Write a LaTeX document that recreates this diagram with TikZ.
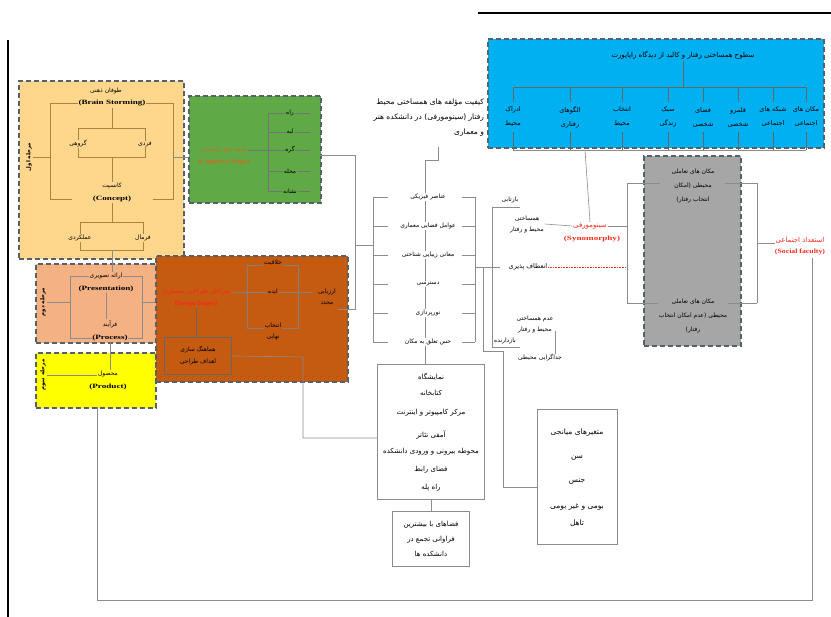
\documentclass[tikz,border=0pt]{standalone}
\usepackage{graphicx}
\usepackage{fontspec}
\setmainfont{Liberation Serif}
\newfontfamily\farsi[Script=Arabic]{DejaVu Sans}
\TeXXeTstate=1
\newcommand\fa[1]{{\farsi\beginR #1\endR}}
\newcommand\wide[1]{\scalebox{1.4}[1]{#1}}
\usetikzlibrary{positioning}
\definecolor{ideafill}{HTML}{FFD78C}
\definecolor{mapfill}{HTML}{5FAA46}
\definecolor{levelfill}{HTML}{00B0F0}
\definecolor{designfill}{HTML}{C55A11}
\definecolor{presfill}{HTML}{F4B183}
\definecolor{prodfill}{HTML}{FFFF00}
\definecolor{placefill}{HTML}{A6A6A6}
\definecolor{dashgray}{HTML}{56606B}
\definecolor{linegray}{HTML}{8C8C8C}
\definecolor{keyred}{HTML}{F52A1A}
\definecolor{mapred}{HTML}{D9661F}
\definecolor{idealine}{HTML}{A88440}
\tikzset{stagebox/.style={draw=dashgray,line width=1.6pt,dash pattern=on 5pt off 3pt,
  anchor=north west,inner sep=0pt}}
\tikzset{plainbox/.style={draw=linegray,line width=0.8pt,inner sep=0pt,align=center,
  font=\fontsize{7}{15}\selectfont}}
\tikzset{lbl/.style={font=\fontsize{6}{11}\selectfont,inner sep=0.8pt,align=center}}
\tikzset{big/.style={font=\fontsize{7}{15}\selectfont}}
\tikzset{tall/.style={font=\fontsize{6}{14}\selectfont}}
\tikzset{en/.style={font=\fontsize{6.5}{8}\selectfont\bfseries,inner sep=0.8pt}}
\tikzset{sidelbl/.style={font=\fontsize{5.5}{7}\selectfont\bfseries,inner sep=0.8pt,rotate=90}}
\tikzset{link/.style={draw=linegray,line width=0.6pt}}

\begin{document}
\begin{tikzpicture}[x=1pt,y=-1pt]
\useasboundingbox (0,0) rectangle (831,617);

% frame
\draw[line width=1.2pt] (478,13) -- (831,13);
\draw[line width=1.2pt] (8,40) -- (8,617);

% stage boxes
\node[stagebox,fill=ideafill,minimum width=165pt,minimum height=178pt] (ideabox) at (18,80) {};
\node[stagebox,fill=mapfill,minimum width=132pt,minimum height=107pt] (mapbox) at (188,95) {};
\node[stagebox,fill=presfill,minimum width=120pt,minimum height=79pt] (presbox) at (35,263) {};
\node[stagebox,fill=prodfill,minimum width=120pt,minimum height=55pt] (prodbox) at (35,352) {};
\node[stagebox,fill=designfill,minimum width=192pt,minimum height=126pt] (designbox) at (155,255) {};
\node[stagebox,fill=levelfill,minimum width=336pt,minimum height=109pt] (levelbox) at (487,38) {};
\node[stagebox,fill=placefill,minimum width=97pt,minimum height=190pt] (placebox) at (643,155) {};

% brain storming
\node[lbl] (bsfa) at (106,91) {\fa{طوفان ذهنی}};
\node[en] (bs) at (112,103) {\wide{(Brain Storming)}};
\node[lbl] (cnfa) at (112,186) {\fa{کانسپت}};
\node[en] (cn) at (112,199) {\wide{(Concept)}};
\draw[link,idealine] (bs.west) -- (50,103) -- (50,199) -- (72,199);
\draw[link,idealine] (bs.east) -- (173,103) -- (173,199) -- (153,199);
\draw[link,idealine] (112,108) -- (112,128);
\draw[link,idealine] (78,128) rectangle (145,157);
\draw[link,idealine] (112,157) -- (cnfa.north);
\draw[link,idealine] (cn.south) -- (112,222);
\draw[link,idealine] (80,222) rectangle (143,250);
\node[lbl,fill=ideafill] (group) at (78,144) {\fa{گروهی}};
\node[lbl,fill=ideafill] (indiv) at (145,144) {\fa{فردی}};
\node[lbl,fill=ideafill] (func) at (80,238) {\fa{عملکردی}};
\node[lbl,fill=ideafill] (form) at (143,238) {\fa{فرمال}};
\node[sidelbl] (stage1) at (29,157) {\fa{مرحله اول}};
\draw[link,idealine] (stage1.south) -- (50,157);
\draw[link] (173,157) -- (188,157);
\draw[link] (112,250) -- (112,272);

% cognitive maps
\draw[link,black!55] (268,113) -- (268,191);
\foreach \y/\w [count=\i] in {113/راه,132/لبه,150/گره,171/محله,191/نشانه}{
  \draw[link,black!55] (268,\y) -- (310,\y);
  \node[lbl,fill=mapfill] (lynch\i) at (290,\y) {\fa{\w}};
}
\node[lbl,text=mapred] (mapfa) at (224,150) {\fa{نقشه های شناختی}};
\node[en,text=mapred,font=\fontsize{6}{7}\selectfont\bfseries] (map) at (224,162) {\scalebox{1.15}[1]{(Cognitive Maps)}};
\draw[link,black!55] (mapfa.east) -- (268,150);

% presentation / process / product
\draw[link] (70,276) rectangle (142,338);
\node[lbl,fill=presfill] (presfa) at (106,276) {\fa{ارائه تصویری}};
\node[en] (pres) at (106,289) {\wide{(Presentation)}};
\node[lbl] (procfa) at (110,324) {\fa{فرآیند}};
\node[en,fill=presfill] (proc) at (110,338) {\wide{(Process)}};
\draw[link] (pres.south) -- (pres.south |- procfa.north);
\node[sidelbl] (stage2) at (43,302) {\fa{مرحله دوم}};
\draw[link] (stage2.south) -- (70,302);
\draw[link] (142,302) -- (155,302);
\node[lbl] (prodfa) at (108,374) {\fa{محصول}};
\node[en] (prod) at (108,387) {\wide{(Product)}};
\node[sidelbl] (stage3) at (43,375) {\fa{مرحله سوم}};
\draw[link] (stage3.south) -- (stage3.south -| prodfa.west);
\draw[link] (proc.south) -- (proc.south |- prodfa.north);

% design stages
\draw[link,black!50] (247,265) rectangle (298,328);
\draw[link,black!50] (233,292) -- (313,292);
\node[lbl,big,text=keyred] (designfa) at (196,292) {\fa{مراحل طراحی معماری}};
\node[en,text=keyred] (design) at (196,304) {(Design Stages)};
\node[lbl,fill=designfill] (creat) at (273,263) {\fa{خلاقیت}};
\node[lbl,fill=designfill] (idea) at (273,292) {\fa{ایده}};
\node[lbl,fill=designfill] (final) at (273,331) {\fa{انتخاب}\\\fa{نهایی}};
\node[lbl] (review) at (327,297) {\fa{ارزیابی}\\\fa{مجدد}};
\node[plainbox,draw=black!60,minimum width=67pt,minimum height=37pt,
  font=\fontsize{6}{12}\selectfont] (harm) at (198,356) {\fa{هماهنگ سازی}\\\fa{اهداف طراحی}};
\draw[link,black!60] (design.south) -- (design.south |- harm.north);

% core list
\node[lbl,font=\fontsize{7.5}{15}\selectfont,align=right,anchor=north east] (title) at (485,98)
  {\fa{کیفیت مؤلفه های همساختی محیط}\\\fa{رفتار (سینومورفی) در دانشکده هنر}\\\fa{و معماری}};
\draw[link] (438,147) -- (438,160) -- (425,160) -- (425,365);
\draw[link] (373,197) -- (373,342) (475,197) -- (475,342);
\foreach \y/\w [count=\i] in {197/عناصر فیزیکی,226/عوامل فضایی معماری,255/معانی زیبایی شناختی,
  284/دسترسی,313/نورپردازی,342/حس تعلق به مکان}{
  \draw[link] (373,\y) -- (388,\y) (462,\y) -- (475,\y);
  \node[lbl,fill=white] (comp\i) at (428,\y) {\fa{\w}};
}
\coordinate (listjoin) at (355,245);
\draw[link] (320,155) -| (listjoin) -- (373,245);
\draw[link] (338,309) -- (355,309) -- (listjoin);
\draw[link] (475,267) -- (500,267);

% levels of congruence
\node[lbl,big] (leveltitle) at (683,55) {\fa{سطوح همساختی رفتار و کالبد از دیدگاه راپاپورت}};
\draw[link,black!60] (683,61) -- (683,87) (513,87) -- (806,87);
\foreach \x/\a/\b [count=\i] in {806/مکان های/اجتماعی,773/شبکه های/اجتماعی,738/قلمرو/شخصی,
  703/فضای/شخصی,668/سبک/زندگی,622/انتخاب/محیط,570/الگوهای/رفتاری,513/ادراک/محیط}{
  \draw[link,black!60] (\x,87) -- (\x,102) (\x,132) -- (\x,150);
  \node[lbl,font=\fontsize{6.5}{14}\selectfont] (level\i) at (\x,117) {\fa{\a}\\\fa{\b}};
}
\draw[link] (513,150) -- (806,150);

% synomorphy
\draw[link] (492,207) -- (492,347);
\draw[link] (492,207) -- (520,207) (492,347) -- (520,347);
\node[lbl] (reflect) at (510,200) {\fa{بازتابی}};
\node[lbl] (fit) at (527,224) {\fa{همساختی}\\\fa{محیط و رفتار}};
\node[lbl,font=\fontsize{6.5}{11}\selectfont] (flex) at (528,267) {\fa{انعطاف پذیری}};
\node[lbl] (misfit) at (535,324) {\fa{عدم همساختی}\\\fa{محیط و رفتار}};
\node[lbl] (inhib) at (505,341) {\fa{بازدارنده}};
\node[lbl] (separ) at (540,358) {\fa{جداگرایی محیطی}};
\draw[link] (555,331) -- (separ.north -| 555,0);
\node[lbl,big,text=keyred] (synfa) at (590,226) {\fa{سینومورفی}};
\node[en,text=keyred] (syn) at (592,239) {\wide{(Synomorphy)}};
\draw[link] (fit.east) -- (synfa.west);
\draw[link] (585,150) -- (synfa.north);
\draw[link] (synfa.east) -- (627,226);
\draw[link,keyred,densely dotted] (flex.east) -- (627,267);

% interactive places
\draw[link] (627,183) -- (627,303) (627,183) -- (660,183) (627,303) -- (660,303);
\draw[link] (757,183) -- (757,303) (725,183) -- (757,183) (725,303) -- (757,303);
\node[lbl,tall,fill=placefill] (choice) at (693,186)
  {\fa{مکان های تعاملی}\\\fa{محیطی (امکان}\\\fa{انتخاب رفتار)}};
\node[lbl,tall,fill=placefill] (nochoice) at (693,316)
  {\fa{مکان های تعاملی}\\\fa{محیطی (عدم امکان انتخاب}\\\fa{رفتار)}};
\node[lbl,big,text=keyred] (socfa) at (800,240) {\fa{استعداد اجتماعی}};
\node[en,text=keyred] (soc) at (800,252) {\scalebox{1.2}[1]{(Social faculty)}};
\draw[link] (757,243) -- (socfa.west |- 0,243);
\draw[link] (812,258) -- (812,600) -- (97,600) -- (97,407);

% spaces and moderators
\node[plainbox,minimum width=107pt,minimum height=135pt] (hubbox) at (431,432) {};
\foreach \y/\w [count=\i] in {377/نمایشگاه,393/کتابخانه,413/مرکز کامپیوتر و اینترنت,
  435/آمفی تئاتر,452/محوطه بیرونی و ورودی دانشکده,470/فضای رابط,488/راه پله}{
  \node[lbl,big] (space\i) at (431,\y) {\fa{\w}};
}
\node[plainbox,minimum width=77pt,minimum height=55pt] (crowd) at (431,539)
  {\fa{فضاهای با بیشترین}\\\fa{فراوانی تجمع در}\\\fa{دانشکده ها}};
\draw[link] (hubbox.south) -- (crowd.north);
\draw[link] (harm.east) -- (303,357) -- (303,438) -- (hubbox.west |- 0,438);
\node[plainbox,minimum width=80pt,minimum height=135pt] (medbox) at (577,477) {};
\foreach \y/\w [count=\i] in {433/متغیرهای میانجی,458/سن,482/جنس,507/بومی و غیر بومی,523/تاهل}{
  \node[lbl,font=\fontsize{7.5}{11}\selectfont] (mod\i) at (577,\y) {\fa{\w}};
}
\draw[link] (483,267) -- (483,351) -- (503,351) -- (503,487) -- (medbox.west |- 0,487);

\end{tikzpicture}
\end{document}
